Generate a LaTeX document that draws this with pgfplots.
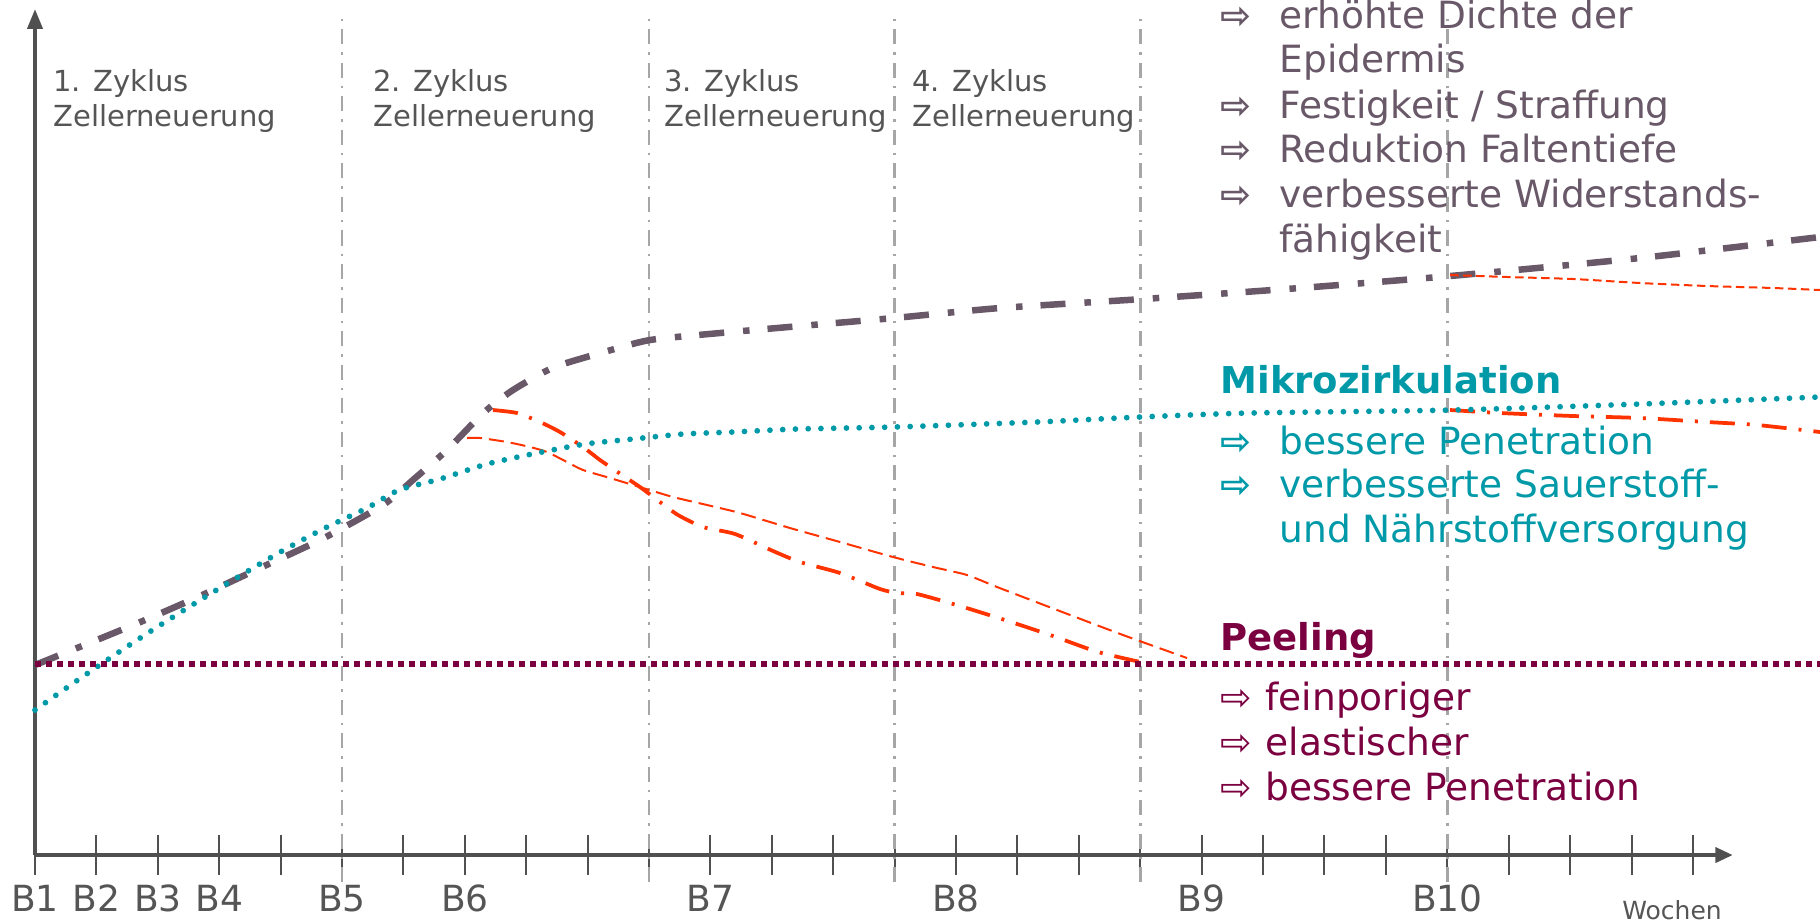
\documentclass[border=0pt]{standalone}
\usepackage{pgfplots}
\pgfplotsset{compat=1.18}
\usepackage{fontspec}
\setmainfont{DejaVu Sans}
\usetikzlibrary{arrows.meta}
\definecolor{epid}{RGB}{104,88,104}
\definecolor{teal2}{RGB}{0,153,168}
\definecolor{maroon2}{RGB}{122,0,64}
\definecolor{red2}{RGB}{255,51,0}
\definecolor{vgray}{RGB}{166,166,166}
\definecolor{axgray}{RGB}{80,80,80}
\definecolor{txgray}{RGB}{85,85,85}
\newcommand{\zf}{\fontsize{11.6pt}{14pt}\selectfont}
\newcommand{\rf}{\fontsize{15pt}{18pt}\selectfont}
\newcommand{\hbf}{\fontsize{14.8pt}{18pt}\selectfont\bfseries}
\begin{document}
\begin{tikzpicture}
\begin{axis}[
  x=24.56pt, y=0.4pt,
  xmin=0, xmax=27.65, ymin=0, ymax=846,
  axis lines=left,
  clip=false,
  enlargelimits=false,
  axis line style={line width=1.6pt, color=axgray},
  x axis line style={-{Triangle[width=6pt,length=7pt]}},
  y axis line style={-{Triangle[width=6pt,length=8pt]}},
  xtick={0,...,27},
  xticklabels={B1,B2,B3,B4,{},B5,{},B6,{},{},{},B7,{},{},{},B8,{},{},{},B9,{},{},{},B10,{},{},{},{}},
  xtick align=center,
  major tick length=16pt,
  x tick style={line width=0.8pt, color=axgray},
  ytick=\empty,
  xticklabel style={font=\fontsize{14.4pt}{16pt}\selectfont, text=txgray, inner sep=0pt, anchor=base, yshift=-14.6pt},
]
% vertical cycle separators
\addplot[vgray, line width=1.1pt, dash pattern=on 6pt off 3.2pt on 1pt off 3.2pt] coordinates {(5,-27) (5,840)};
\addplot[vgray, line width=1.1pt, dash pattern=on 6pt off 3.2pt on 1pt off 3.2pt] coordinates {(10,-27) (10,840)};
\addplot[vgray, line width=1.1pt, dash pattern=on 6pt off 3.2pt on 1pt off 3.2pt] coordinates {(14,-27) (14,840)};
\addplot[vgray, line width=1.1pt, dash pattern=on 6pt off 3.2pt on 1pt off 3.2pt] coordinates {(18,-27) (18,840)};
\addplot[vgray, line width=1.1pt, dash pattern=on 6pt off 3.2pt on 1pt off 3.2pt] coordinates {(23,-27) (23,840)};
% Epidermis
\addplot[epid, line width=2.6pt, smooth, tension=0.4, dash pattern=on 10pt off 7.6pt on 2.6pt off 7.2pt] coordinates {
(0,190) (0.684,207) (1.678,232) (2.687,259) (3.664,287) (4.674,316) (5.668,350) (6.173,376) (6.710,405) (7.215,437) (7.492,452) (7.785,465) (8.143,478) (8.502,489) (9.267,503) (10.016,515) (11.156,522) (12.655,530) (13.990,537) (15.717,547) (18.046,556) (20.603,567) (23.046,579) (26.140,597) (29.07,618)};
% red dashed
\addplot[red2, line width=0.8pt, smooth, tension=0.4, dash pattern=on 6pt off 2.8pt] coordinates {
(7.036,417) (7.248,417) (7.687,413) (8.062,408) (8.339,403) (8.664,393) (8.925,385) (9.365,377) (9.902,367) (10.391,358) (10.945,350) (11.482,342) (12.296,327) (13.111,313) (13.974,298) (14.625,288) (15.179,280) (15.668,268) (16.645,245) (17.720,220) (18.762,197)};
\addplot[red2, line width=0.8pt, smooth, tension=0.4, dash pattern=on 3.4pt off 1.8pt] coordinates {
(23.046,580) (23.974,578) (25.05,576) (26.14,572) (27.23,569) (28.31,567) (29.07,565)};
% red dash-dot
\addplot[red2, line width=1.5pt, smooth, tension=0.4, dash pattern=on 10pt off 4.8pt on 1.2pt off 4.8pt] coordinates {
(7.459,445) (7.850,442) (8.225,433) (8.550,423) (8.925,408) (9.202,395) (9.560,380) (9.853,368) (10.179,353) (10.472,340) (10.879,328) (11.401,321) (12.020,304) (12.459,293) (13.111,282) (13.762,266) (14.055,262) (14.365,261) (15.065,249) (15.847,234) (16.580,219) (17.313,203) (18.078,192)};
\addplot[red2, line width=1.5pt, smooth, tension=0.4, dash pattern=on 10pt off 4.8pt on 1.2pt off 4.8pt] coordinates {
(23.046,445) (23.86,442) (25.05,439) (26.14,437) (27.23,433) (28.05,430) (29.07,423)};
% Mikrozirkulation
\addplot[teal2, line width=2.3pt, line cap=round, smooth, tension=0.4, dash pattern=on 0pt off 5.1pt] coordinates {
(0,145) (0.603,171) (1.270,199) (1.938,226) (2.638,253) (3.306,278) (4.023,304) (4.723,327) (5.407,347) (5.928,365) (6.596,376) (7.362,391) (8.176,402) (8.958,411) (9.739,416) (10.554,421) (11.368,423) (12.410,426) (13.990,428) (16.319,433) (17.997,438) (19.788,442) (23.094,445) (26.140,451) (29.07,458)};
% Peeling
\addplot[maroon2, line width=2.2pt, dash pattern=on 2.2pt off 2.2pt] coordinates {(0,191) (29.07,191)};
\coordinate (tl) at (axis cs:-0.570,855);
\coordinate (bl) at (axis cs:-0.570,-67);
\coordinate (tr) at (axis cs:29.07,855);
\end{axis}
\begin{scope}[shift={(tl)}, x=0.4pt, y=-0.4pt]
\tikzset{every node/.style={anchor=base west, inner sep=0pt}}
% cycle labels
\node[text=txgray, font=\zf] at (53,91) {1. Zyklus};
\node[text=txgray, font=\zf] at (53,126) {Zellerneuerung};
\node[text=txgray, font=\zf] at (373,91) {2. Zyklus};
\node[text=txgray, font=\zf] at (373,126) {Zellerneuerung};
\node[text=txgray, font=\zf] at (664,91) {3. Zyklus};
\node[text=txgray, font=\zf] at (664,126) {Zellerneuerung};
\node[text=txgray, font=\zf] at (912,91) {4. Zyklus};
\node[text=txgray, font=\zf] at (912,126) {Zellerneuerung};
% Epidermis notes
\node[text=epid, font=\hbf] at (1220,29) {⇨};
\node[text=epid, font=\rf] at (1279,29) {erhöhte Dichte der};
\node[text=epid, font=\rf] at (1279,73) {Epidermis};
\node[text=epid, font=\hbf] at (1220,118) {⇨};
\node[text=epid, font=\rf] at (1279,118) {Festigkeit / Straffung};
\node[text=epid, font=\hbf] at (1220,162) {⇨};
\node[text=epid, font=\rf] at (1279,162) {Reduktion Faltentiefe};
\node[text=epid, font=\hbf] at (1220,207) {⇨};
\node[text=epid, font=\rf] at (1279,207) {verbesserte Widerstands-};
\node[text=epid, font=\rf] at (1279,252) {fähigkeit};
% Mikrozirkulation
\node[text=teal2, font=\hbf] at (1220,393) {Mikrozirkulation};
\node[text=teal2, font=\hbf] at (1220,454) {⇨};
\node[text=teal2, font=\rf] at (1279,454) {bessere Penetration};
\node[text=teal2, font=\hbf] at (1220,497) {⇨};
\node[text=teal2, font=\rf] at (1279,497) {verbesserte Sauerstoff-};
\node[text=teal2, font=\rf] at (1279,542) {und Nährstoffversorgung};
% Peeling
\node[text=maroon2, font=\hbf] at (1220,650) {Peeling};
\node[text=maroon2, font=\rf] at (1220,710) {⇨};
\node[text=maroon2, font=\rf] at (1265,710) {feinporiger};
\node[text=maroon2, font=\rf] at (1220,755) {⇨};
\node[text=maroon2, font=\rf] at (1265,755) {elastischer};
\node[text=maroon2, font=\rf] at (1220,800) {⇨};
\node[text=maroon2, font=\rf] at (1265,800) {bessere Penetration};
\node[text=txgray, font=\fontsize{10pt}{11pt}\selectfont, anchor=base] at (1672,919) {Wochen};
\end{scope}
\pgfresetboundingbox
\path[use as bounding box] (bl) rectangle (tr);
\end{tikzpicture}
\end{document}
